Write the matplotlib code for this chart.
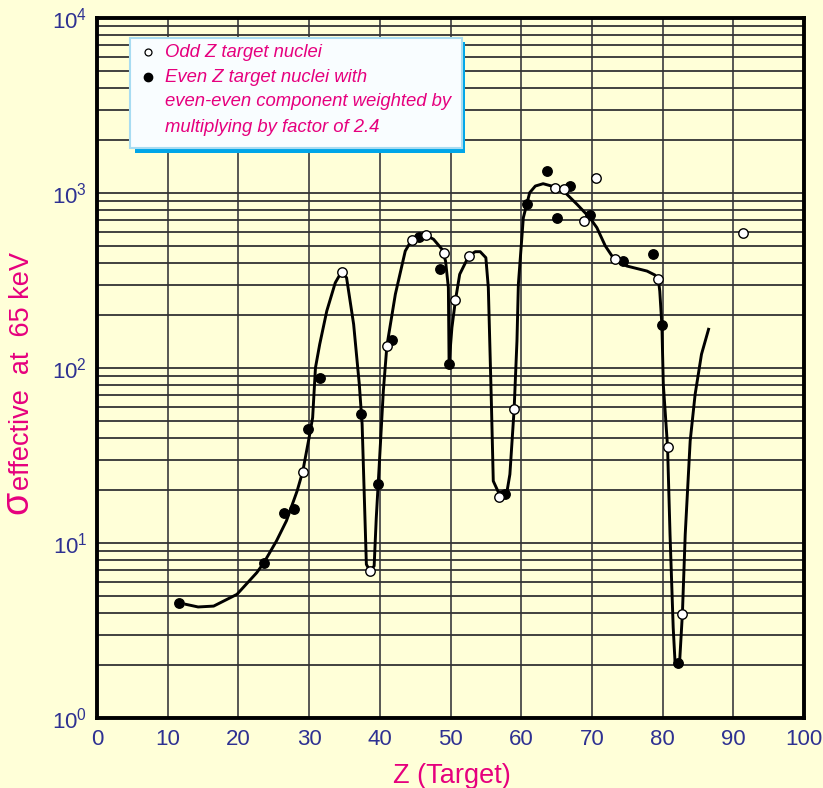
import matplotlib.pyplot as plt
from matplotlib.patches import Rectangle

plt.rcParams['font.family'] = ['Liberation Sans', 'DejaVu Sans']
plt.rcParams['mathtext.fontset'] = 'custom'
plt.rcParams['mathtext.rm'] = 'Liberation Sans'
plt.rcParams['mathtext.it'] = 'Liberation Sans:italic'

# even Z target nuclei (filled dots)
even_z = [11.6, 23.6, 26.4, 27.8, 29.9, 31.5, 37.3, 39.7, 41.7, 45.6, 48.5,
          49.8, 57.7, 60.8, 63.6, 65.0, 66.9, 69.7, 74.4, 78.6, 79.9, 82.2]
even_sigma = [4.56, 7.71, 14.9, 15.6, 44.6, 87.7, 54.4, 21.8, 144.5, 562, 369,
              105.9, 19.1, 868, 1336, 717, 1096, 749, 409, 450, 175.4, 2.05]

# odd Z target nuclei (open circles)
odd_z = [29.1, 34.6, 38.6, 41.0, 44.5, 46.5, 49.1, 50.7, 52.6, 56.8, 59.0,
         64.8, 66.1, 70.6, 68.9, 73.2, 79.4, 80.7, 82.8, 91.4]
odd_sigma = [25.6, 355, 6.92, 133.6, 539, 575, 456, 244, 438, 18.2, 58.1,
             1064, 1050, 1213, 695, 421, 321, 35.5, 3.94, 591]

# hand drawn trend curve
curve_z = [12.6, 14.3, 16.5, 19.8, 22.6, 23.6, 25.4, 26.8, 28.3, 29.1, 30.0,
           30.5, 30.9, 31.5, 32.5, 33.7, 34.6, 35.3, 36.3, 37.1, 37.5, 37.9,
           38.1, 38.6, 39.2, 39.5, 39.9, 40.5, 41.0, 42.2, 43.6, 44.5, 46.5,
           47.6, 48.8, 49.3, 49.7, 49.8, 50.2, 50.7, 51.3, 52.6, 53.5, 54.2,
           55.0, 55.35, 55.6, 55.8, 56.05, 56.8, 58.0, 58.4, 59.0, 59.4, 59.6,
           60.3, 60.8, 61.2, 62.0, 63.1, 64.3, 66.0, 67.9, 69.7, 70.7, 71.9,
           73.0, 74.9, 77.8, 78.9, 79.4, 79.6, 79.9, 80.1, 80.7, 81.05, 81.5,
           81.75, 82.4, 82.8, 83.2, 83.9, 84.6, 85.5, 86.5]
curve_sigma = [4.46, 4.31, 4.36, 5.09, 6.77, 7.71, 10.3, 13.4, 19.8, 25.6, 40.0,
               52.0, 100.4, 136.6, 211.7, 307, 355, 328, 177.7, 80.7, 47.7, 13.9,
               7.55, 6.92, 7.39, 13.9, 26.9, 73.9, 133.6, 264, 466, 539, 575,
               544, 477, 409, 288, 105.9, 170, 244, 343, 438, 462, 462,
               427, 288, 119.8, 59.3, 22.6, 19.4, 19.8, 24.7, 58.1, 142.6, 301,
               722, 868, 1004, 1096, 1130, 1096, 1026, 861, 722, 634, 498,
               427, 383, 358, 340, 321, 275, 175.4, 80.7, 35.5, 11.2, 3.28,
               2.12, 2.07, 3.94, 11.2, 38.3, 70.7, 119.8, 166.4]

legend_lines = ['Odd Z target nuclei', 'Even Z target nuclei with',
                'even-even component weighted by', 'multiplying by factor of 2.4']

bg = '#FFFFD8'
navy = '#2E3192'
magenta = '#E6007E'

W, H = 823, 788
fig = plt.figure(figsize=(W / 100, H / 100), dpi=100)
fig.patch.set_facecolor(bg)
ax = fig.add_axes([97 / W, 70 / H, 707 / W, 700 / H])
ax.set_facecolor(bg)

ax.set_xlim(0, 100)
ax.set_yscale('log')
ax.set_ylim(1, 1e4)
ax.set_xticks(range(0, 101, 10))

ax.grid(True, which='both', axis='y', color='#333333', lw=1.3)
ax.grid(True, which='major', axis='x', color='#4a4a4a', lw=1.3)
ax.tick_params(which='both', length=0, labelsize=16, colors=navy)
ax.tick_params(axis='x', pad=8)
ax.tick_params(axis='y', pad=7)
for s in ax.spines.values():
    s.set_linewidth(2.8)
    s.set_zorder(5)

ax.plot(curve_z, curve_sigma, color='black', lw=2.1, zorder=3)
ax.plot(even_z, even_sigma, 'o', ms=6.8, mfc='black', mec='black', zorder=4)
ax.plot(odd_z, odd_sigma, 'o', ms=6.8, mfc='white', mec='black', mew=1, zorder=4)

# legend box with blue shadow
ax.add_patch(Rectangle((0.0537, 0.807), 0.4668, 0.1587, transform=ax.transAxes,
                       fc='#00A6E8', ec='none', zorder=6))
ax.add_patch(Rectangle((0.0467, 0.8143), 0.4696, 0.1571, transform=ax.transAxes,
                       fc='#F9FDFF', ec='#A8DCF2', lw=1.5, zorder=7))
row_y = [0.9514, 0.9157, 0.88, 0.8429]
ax.plot([0.0721], [row_y[0]], 'o', ms=5, mfc='white', mec='black', mew=0.9,
        transform=ax.transAxes, zorder=8)
ax.plot([0.0721], [row_y[1]], 'o', ms=6, mfc='black', mec='black',
        transform=ax.transAxes, zorder=8)
for yy, txt in zip(row_y, legend_lines):
    ax.text(0.0962, yy, txt, transform=ax.transAxes, color=magenta,
            fontsize=13.3, style='italic', va='center', ha='left', zorder=8)

# axis labels
fig.text(452 / W, 1 - 776 / H, 'Z (Target)', color=magenta, fontsize=19.5,
         ha='center', va='center')
fig.text(35 / W, 1 - 514 / H, 'σ', color=magenta, fontsize=27, rotation=90,
         ha='right', va='bottom')
fig.text(35 / W, 1 - 490 / H, 'effective  at  65 keV', color=magenta,
         fontsize=19.5, rotation=90, ha='right', va='bottom')

fig.savefig('out.png', dpi=100, facecolor=bg)
